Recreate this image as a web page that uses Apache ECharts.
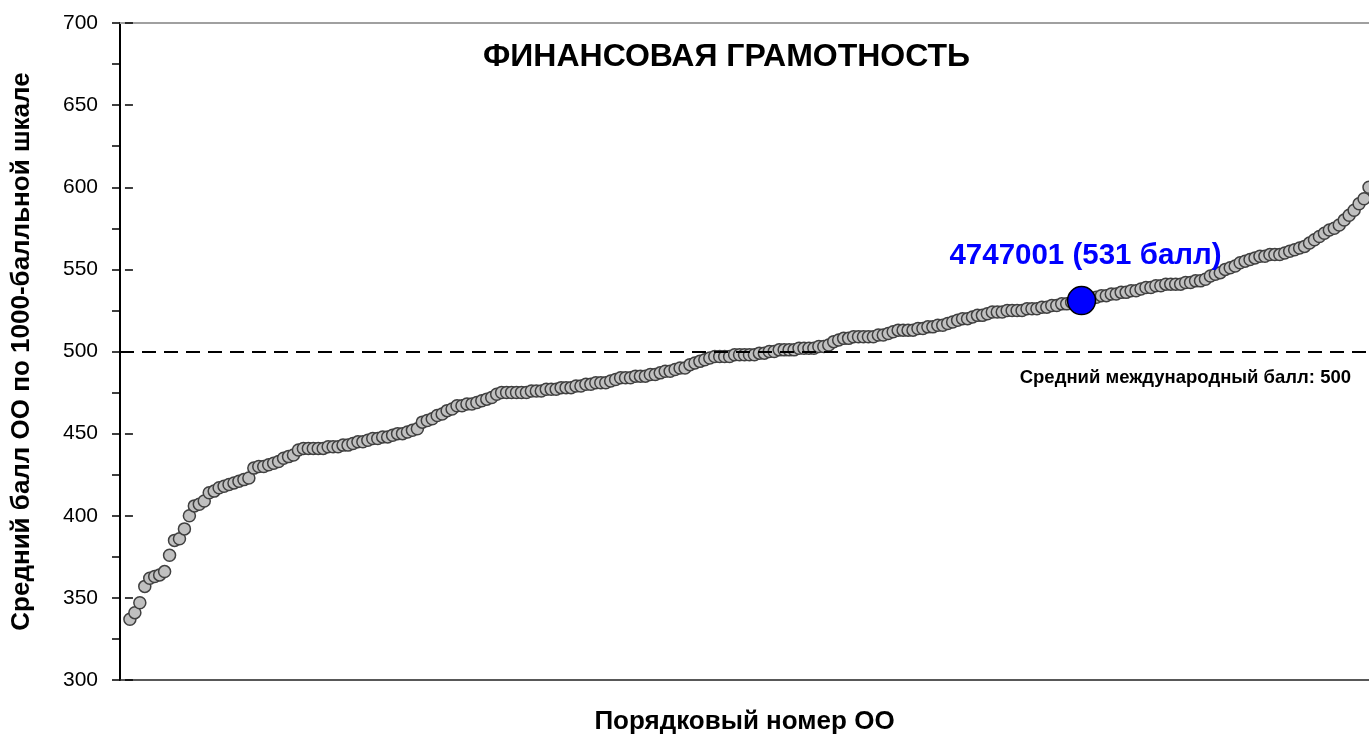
<!DOCTYPE html>
<html><head><meta charset="utf-8">
<script src="https://cdn.jsdelivr.net/npm/echarts@6/dist/echarts.min.js"></script>
<style>html,body{margin:0;padding:0;background:#fff}#c{width:1369px;height:737px}</style>
</head><body><div id="c"></div>
<script>
const chartTitle = 'ФИНАНСОВАЯ ГРАМОТНОСТЬ';
const yAxisTitle = 'Средний балл ОО по 1000-балльной шкале';
const xAxisTitle = 'Порядковый номер ОО';
const yTicks = [300, 350, 400, 450, 500, 550, 600, 650, 700];
const scores = [
 337,341,347,357,362,363,364,366,376,385,
 386,392,400,406,407,409,414,415,417,418,
 419,420,421,422,423,429,430,430,431,432,
 433,435,436,437,440,441,441,441,441,441,
 442,442,442,443,443,444,445,445,446,447,
 447,448,448,449,450,450,451,452,453,457,
 458,459,461,462,464,465,467,467,468,468,
 469,470,471,472,474,475,475,475,475,475,
 475,476,476,476,477,477,477,478,478,478,
 479,479,480,480,481,481,481,482,483,484,
 484,484,485,485,485,486,486,487,488,488,
 489,490,490,492,493,494,495,496,497,497,
 497,497,498,498,498,498,498,499,499,500,
 500,501,501,501,501,502,502,502,502,503,
 503,504,506,507,508,508,509,509,509,509,
 509,510,510,511,512,513,513,513,513,514,
 514,515,515,516,516,517,518,519,520,520,
 521,522,522,523,524,524,524,525,525,525,
 525,526,526,526,527,527,528,528,529,529,
 530,530,531,532,532,
 533,534,534,535,535,536,536,537,537,
 538,539,539,540,540,541,541,541,541,542,
 542,543,543,544,546,547,548,550,551,552,554,555,556,557,558,
 558,559,559,559,560,561,562,563,564,566,568,570,572,574,575,
 577,580,583,586,590,593,600
];
const schoolCode = '4747001';
const schoolRank = 193;
const intlAverage = 500;
const intlLabel = 'Средний международный балл: ' + intlAverage;

const pts = scores.map((v, i) => [i + 1, v]);
const hiVal = scores[schoolRank - 1];
const font = '"Liberation Sans", Arial, sans-serif';

const chart = echarts.init(document.getElementById('c'));
chart.setOption({
  animation: false,
  backgroundColor: '#fff',
  textStyle: { fontFamily: font },
  grid: { left: 120, right: 0, top: 23, bottom: 57, containLabel: false, outerBoundsMode: 'none' },
  title: {
    text: chartTitle, left: 478, top: 36,
    textStyle: { fontFamily: font, fontSize: 32, fontWeight: 'bold', color: '#000' }
  },
  graphic: [{
    type: 'text', right: 18, top: 368,
    style: { text: intlLabel, font: 'bold 18.5px "Liberation Sans", Arial, sans-serif', fill: '#000' }
  }],
  xAxis: [{
    type: 'value', min: -1, max: scores.length, position: 'bottom',
    name: xAxisTitle, nameLocation: 'middle', nameGap: 29,
    nameTextStyle: { fontFamily: font, fontSize: 26, fontWeight: 'bold', color: '#000' },
    axisLine: { show: true, onZero: false, lineStyle: { color: '#222', width: 1.5 } },
    axisTick: { show: false }, axisLabel: { show: false }, splitLine: { show: false }
  }, {
    type: 'value', min: -1, max: scores.length, position: 'top',
    axisLine: { show: true, onZero: false, lineStyle: { color: '#a0a0a0', width: 2 } },
    axisTick: { show: false }, axisLabel: { show: false }, splitLine: { show: false }
  }],
  yAxis: [{
    type: 'value', min: yTicks[0], max: yTicks[yTicks.length - 1], interval: yTicks[1] - yTicks[0],
    name: yAxisTitle, nameLocation: 'middle', nameGap: 85, nameRotate: 90,
    nameTextStyle: { fontFamily: font, fontSize: 26, fontWeight: 'bold', color: '#000' },
    axisLine: { show: true, onZero: false, lineStyle: { color: '#000', width: 2 } },
    axisTick: { show: true, length: 8, lineStyle: { color: '#000', width: 1.5 } },
    minorTick: { show: true, splitNumber: 2, length: 8, lineStyle: { color: '#000', width: 1.5 } },
    axisLabel: { fontFamily: font, fontSize: 21, color: '#000', margin: 22 },
    splitLine: { show: false }
  }, {
    type: 'value', min: yTicks[0], max: yTicks[yTicks.length - 1], interval: yTicks[1] - yTicks[0],
    position: 'left',
    axisLine: { show: false }, axisLabel: { show: false }, splitLine: { show: false },
    axisTick: { show: true, inside: true, length: 8, lineStyle: { color: '#000', width: 1.5 } }
  }],
  series: [{
    type: 'line', data: [], z: 1,
    markLine: {
      silent: true, symbol: 'none', label: { show: false },
      lineStyle: { color: '#000', type: [14, 8], width: 2 },
      data: [{ yAxis: intlAverage }]
    }
  }, {
    type: 'scatter', z: 3, data: pts, symbolSize: 12,
    itemStyle: { color: '#c0c0c0', borderColor: '#404040', borderWidth: 1.5, opacity: 1 }
  }, {
    type: 'scatter', z: 5, data: [[schoolRank, hiVal]], symbolSize: 28,
    itemStyle: { color: '#0000ff', borderColor: '#000', borderWidth: 1.5, opacity: 1 },
    label: {
      show: true, position: 'top', distance: 15, offset: [4, 0],
      formatter: schoolCode + ' (' + hiVal + ' балл)',
      fontFamily: font, fontSize: 29.5, fontWeight: 'bold', color: '#0000ff'
    }
  }]
});
</script></body></html>
